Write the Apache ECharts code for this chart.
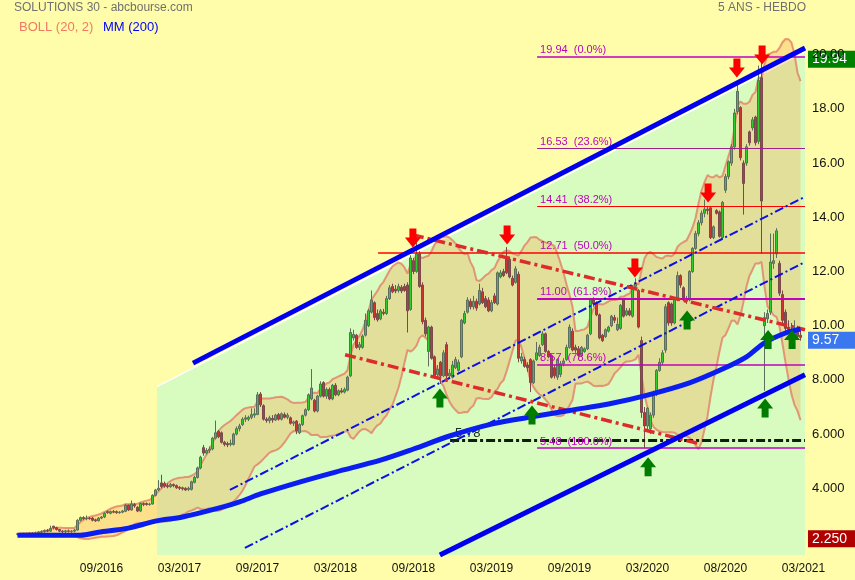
<!DOCTYPE html>
<html><head><meta charset="utf-8">
<script src="https://cdn.jsdelivr.net/npm/echarts@6/dist/echarts.min.js"></script>
<style>html,body{margin:0;padding:0;background:#fffda9}#c{width:855px;height:580px}</style>
</head><body><div id="c"></div>
<script>
// ---------------- DATA ----------------
const startDate = '2016-02-29';
const weekCount = 263;
const xTickLabels = ['09/2016','03/2017','09/2017','03/2018','09/2018','03/2019','09/2019','03/2020','08/2020','03/2021'];
const yTickValues = [4,6,8,10,12,14,16,18,20];

const openP = [2.30,2.32,2.30,2.33,2.31,2.34,2.32,2.35,2.38,2.40,2.44,2.42,2.60,2.55,2.48,2.42,2.40,2.43,2.41,2.42,
2.46,2.82,2.92,2.88,2.90,2.90,2.84,2.80,2.90,2.94,3.14,3.08,3.14,3.14,3.10,3.12,3.15,3.38,3.20,3.40,
3.30,3.16,3.44,3.44,3.40,3.42,3.74,3.94,4.20,4.18,4.10,4.06,4.14,4.10,4.04,4.02,4.00,3.96,3.96,4.22,
4.40,4.75,5.50,5.30,5.40,5.45,5.85,6.10,6.05,5.70,5.65,5.62,5.62,6.00,6.20,6.35,6.55,6.55,6.62,6.70,
6.72,7.48,7.05,6.55,6.50,6.58,6.52,6.72,6.55,6.72,6.62,6.60,6.40,6.48,6.05,6.35,6.70,6.90,7.30,7.25,
6.85,7.40,7.90,7.40,7.65,7.30,7.80,7.45,7.60,7.55,7.62,8.15,9.55,9.65,9.20,9.20,9.65,10.00,10.50,10.85,
10.45,10.25,10.50,10.45,11.00,11.45,11.35,11.30,11.42,11.45,11.50,10.60,12.40,12.00,12.65,11.50,10.20,9.05,9.95,8.85,
8.20,8.65,8.15,9.30,8.15,8.10,8.45,8.35,8.85,10.10,10.50,10.90,10.70,10.90,10.80,11.25,11.00,10.95,10.55,11.10,
10.80,11.80,12.00,12.50,12.45,11.75,11.60,11.90,8.70,8.75,8.55,8.75,7.90,8.75,8.90,9.30,9.70,9.05,8.90,8.45,
8.10,8.20,8.60,8.75,9.20,9.80,9.20,9.15,8.90,9.05,9.15,9.70,10.95,10.85,10.40,9.65,9.60,9.80,10.00,10.30,
9.85,9.90,10.95,10.40,10.55,10.35,11.45,11.30,9.45,6.80,6.30,6.20,6.70,7.50,8.35,8.65,9.10,10.85,10.80,10.10,
10.95,11.85,11.40,10.90,10.95,12.00,12.85,13.40,13.80,14.15,14.30,14.35,13.25,14.25,14.20,13.25,15.00,15.50,16.00,16.60,
17.90,18.05,16.00,16.00,17.15,17.30,17.70,16.80,19.15,10.00,10.25,10.50,12.30,12.65,12.30,11.15,10.50,9.95,9.85,9.65,
9.75,9.65];
const closeP = [2.32,2.30,2.33,2.31,2.34,2.32,2.35,2.38,2.40,2.44,2.42,2.52,2.55,2.48,2.42,2.40,2.43,2.41,2.42,2.46,
2.82,2.92,2.88,2.90,2.88,2.82,2.80,2.90,2.94,3.08,3.10,3.14,3.12,3.10,3.12,3.16,3.38,3.20,3.42,3.35,
3.16,3.44,3.40,3.40,3.42,3.74,3.94,4.00,4.06,4.08,4.06,4.14,4.10,4.02,4.00,3.98,3.94,4.00,4.24,4.40,
4.75,5.15,5.30,5.40,5.45,5.85,6.05,5.90,5.70,5.62,5.60,5.66,6.00,6.20,6.30,6.55,6.60,6.62,6.72,6.75,
7.45,7.08,6.55,6.50,6.60,6.52,6.70,6.55,6.75,6.62,6.70,6.40,6.45,6.12,6.35,6.68,6.90,7.45,7.70,6.85,
7.40,7.85,7.40,7.65,7.30,7.80,7.45,7.60,7.55,7.65,8.10,9.75,9.68,9.20,9.30,9.62,10.20,10.55,10.95,10.30,
10.22,10.55,10.45,11.00,11.40,11.25,11.28,11.45,11.28,11.30,10.55,12.50,12.00,12.65,11.45,10.15,9.70,9.95,8.80,8.15,
8.40,8.15,9.00,8.15,8.25,8.55,8.75,8.65,10.20,10.45,10.95,10.70,10.90,10.65,11.30,10.85,10.70,10.55,10.85,10.85,
11.95,11.95,11.85,11.95,11.80,11.50,12.10,8.80,8.85,8.50,8.45,7.90,8.70,9.00,9.20,9.70,9.05,8.85,8.10,8.15,
8.75,8.60,8.70,9.20,9.95,9.10,9.10,8.90,9.20,9.15,9.65,10.95,10.80,10.40,9.55,9.45,9.85,9.95,10.35,10.20,
10.05,10.75,10.35,10.55,10.40,11.40,11.55,9.95,6.80,6.30,6.95,6.70,7.50,8.35,8.65,9.00,10.70,10.10,10.10,10.95,
11.85,11.50,10.95,11.00,12.00,12.85,13.40,13.80,14.15,14.30,14.25,13.25,13.65,14.15,13.30,14.55,15.50,16.05,16.60,17.85,
18.65,16.20,15.25,16.60,16.75,17.60,16.75,19.05,14.60,10.30,10.45,12.35,12.40,13.50,11.20,10.20,9.90,9.85,9.65,9.80,
9.60,9.57];
const lowP = [2.25,2.26,2.27,2.28,2.28,2.29,2.29,2.31,2.33,2.36,2.38,2.40,2.48,2.44,2.38,2.30,2.32,2.37,2.36,2.38,
2.44,2.78,2.84,2.82,2.84,2.78,2.76,2.78,2.86,2.90,3.06,3.04,3.08,3.06,3.06,3.08,3.12,3.16,3.18,3.28,
3.12,3.12,3.34,3.36,3.36,3.40,3.70,3.90,4.00,4.02,4.00,4.02,4.04,3.98,3.94,3.92,3.90,3.90,3.92,4.18,
4.36,4.70,5.20,5.25,5.30,5.40,5.80,5.85,5.65,5.55,5.52,5.55,5.58,5.95,6.10,6.30,6.45,6.48,6.55,6.60,
6.70,7.00,6.50,6.42,6.40,6.42,6.48,6.50,6.50,6.58,6.55,6.35,6.30,6.00,6.00,6.30,6.65,6.85,7.25,6.80,
6.80,7.35,7.35,7.30,7.25,7.25,7.40,7.40,7.50,7.50,7.58,8.10,9.45,9.15,9.10,9.15,9.60,9.95,10.45,10.20,
10.15,10.20,10.38,10.40,10.95,11.20,11.20,11.22,11.20,11.25,9.75,10.55,11.90,11.95,11.40,10.05,9.60,8.50,8.75,8.10,
8.10,7.85,8.10,8.05,8.05,8.05,8.40,8.30,8.80,10.05,10.45,10.60,10.60,10.55,10.75,10.80,10.65,10.50,10.50,10.80,
10.75,11.75,11.80,11.90,11.75,11.45,11.55,8.65,8.60,8.45,8.30,7.55,7.85,8.70,8.85,9.25,9.00,8.80,8.05,8.05,
8.00,8.10,8.50,8.70,9.15,9.05,9.00,8.85,8.85,9.00,9.10,9.65,10.70,10.35,9.50,9.40,9.55,9.75,9.95,10.10,
9.80,9.85,10.30,10.35,10.35,10.30,11.40,9.90,6.60,5.48,6.10,6.00,6.60,7.40,8.30,8.55,9.00,10.00,10.00,10.05,
10.90,11.40,10.90,10.80,10.90,11.95,12.80,13.30,13.70,14.00,14.10,13.20,13.20,14.10,13.25,13.20,14.90,15.40,15.90,16.50,
17.80,16.10,14.10,15.90,16.65,17.20,16.65,16.70,12.65,7.60,10.10,10.40,12.10,12.50,11.10,10.10,9.80,9.70,9.55,9.50,
9.50,9.45];
const highP = [2.35,2.36,2.36,2.36,2.38,2.38,2.40,2.42,2.45,2.48,2.50,2.62,2.62,2.58,2.50,2.46,2.47,2.48,2.46,2.50,
2.86,2.96,2.97,3.00,2.94,2.94,2.88,2.94,2.98,3.12,3.18,3.18,3.20,3.18,3.16,3.20,3.42,3.40,3.55,3.46,
3.34,3.48,3.48,3.48,3.47,3.78,3.98,4.30,4.50,4.25,4.18,4.20,4.18,4.14,4.08,4.06,4.04,4.06,4.28,4.46,
4.80,5.20,5.60,5.48,5.55,5.90,6.50,6.15,6.10,5.75,5.72,5.80,6.05,6.28,6.38,6.62,6.70,6.68,6.95,6.95,
7.55,7.55,7.10,6.62,6.68,6.70,6.75,6.78,6.80,6.80,6.78,6.65,6.50,6.52,6.40,6.72,6.95,7.50,8.40,7.30,
7.45,7.95,7.95,7.72,7.72,7.85,7.88,7.65,7.70,7.72,8.15,9.90,9.85,9.70,9.40,9.68,10.45,10.62,11.30,10.90,
10.60,10.62,10.62,11.10,11.50,11.55,11.50,11.55,11.50,11.55,11.60,12.60,12.50,13.30,12.75,11.60,10.30,10.00,10.00,8.90,
8.55,8.70,9.10,9.40,8.40,8.70,8.85,8.75,10.25,10.55,11.05,11.00,11.10,11.00,11.55,11.40,11.10,11.05,10.95,11.20,
12.00,12.05,12.10,12.90,12.55,11.85,12.20,12.00,9.00,8.85,8.65,8.80,8.75,9.40,9.30,9.80,9.75,9.10,8.95,8.55,
8.80,8.70,8.80,9.30,10.05,9.90,9.30,9.25,9.25,9.20,9.70,11.00,11.05,10.90,10.45,9.70,9.90,10.00,10.40,10.40,
10.30,10.80,11.00,10.65,10.65,11.50,11.75,11.35,9.60,7.00,7.00,6.80,7.60,8.40,8.80,9.10,10.80,10.90,10.85,11.00,
12.00,11.90,11.45,11.10,12.05,12.90,13.50,13.90,14.25,14.65,14.40,14.40,13.70,14.30,14.25,14.60,15.60,16.10,16.70,18.00,
19.00,18.10,16.10,16.70,17.20,17.70,17.75,19.60,19.94,10.50,10.60,13.40,13.40,13.60,12.40,11.30,10.60,10.20,10.10,10.20,
10.00,9.80];

// MM(200) read at sample weeks
const mmWeek = [0,21,27,37,46,55,66,74,81,94,106,121,132,144,158,171,185,197,210,224,235,243,249,256,261];
const mmValue = [2.27,2.27,2.38,2.53,2.79,2.94,3.24,3.50,3.79,4.23,4.60,5.04,5.45,5.93,6.37,6.63,6.89,7.11,7.44,7.89,8.40,8.85,9.37,9.73,9.88];

// Fibonacci retracement levels
const fibValues = [19.94,16.53,14.41,12.71,11.00,8.57,5.48];
const fibLabels = ['19.94  (0.0%)','16.53  (23.6%)','14.41  (38.2%)','12.71  (50.0%)','11.00  (61.8%)','8.57  (78.6%)','5.48  (100.0%)'];
const fibLineStart = [173.2,173.2,173.2,120.2,173.2,173.2,173.2];
const fibLabelStart = 173.2;
const supportValue = 5.78;
const supportStart = 144.2;
// price-axis boxes: value, text
const boxValues = [19.94, 9.57, 2.250];
const boxTexts = ['19.94', '9.57', '2.250'];

// Trend lines [week, value]
const channelUpper = [[58.5,8.62],[262.5,20.25]];
const channelLower = [[140.8,1.54],[262.5,8.19]];
const greenZone = [[46.5,7.75],[262.5,20.1]];
const blueDash1 = [[70.8,3.94],[262.5,14.76]];
const blueDash2 = [[75.8,1.80],[262.5,12.35]];
const redDash1 = [[131.8,13.35],[262.5,9.85]];
const redDash2 = [[109.2,8.93],[227.5,5.64]];

// Signals [week, price at arrow tip]
const arrowsDown = [[131.8,12.87],[163.2,12.98],[205.8,11.76],[230.2,14.53],[239.8,19.14],[248.2,19.62]];
const arrowsUp = [[140.8,7.70],[171.5,7.07],[210.2,5.16],[223.2,10.58],[250.2,9.86],[249.2,7.33],[258.2,9.86]];

// ---------------- BUILD ----------------
const N = weekCount;
const XEND = N - 0.5;
const cats = [];
const t0 = Date.parse(startDate + 'T00:00:00Z');
for (let i = 0; i < N; i++) cats.push(new Date(t0 + i * 7 * 86400000).toISOString().slice(0, 10));
const fmtMonth = v => v.slice(5, 7) + '/' + v.slice(0, 4);
const FONT = 'Liberation Sans, Arial, Helvetica, sans-serif';

const candles = openP.map((o, i) => [o, closeP[i], lowP[i], highP[i]]);
const bollLow = [], bollDiff = [];
for (let i = 0; i < closeP.length; i++) {
  const w = closeP.slice(Math.max(0, i - 19), i + 1);
  const m = w.reduce((a, b) => a + b, 0) / w.length;
  const sd = Math.sqrt(w.reduce((a, b) => a + (b - m) * (b - m), 0) / w.length);
  bollLow.push(m - 2 * sd); bollDiff.push(4 * sd);
}
const mmData = mmWeek.map((w, k) => [w, mmValue[k]]);

const MAG = '#c000c0';
const fibColors = [MAG, '#a0208a', '#ff0000', '#ff0000', MAG, MAG, MAG];
const fibWidths = [1.5, 1.2, 1.2, 1.5, 2.2, 1.5, 1.5];
const hLines = [];
fibValues.forEach((v, k) => {
  hLines.push([{ coord: [fibLineStart[k], v], lineStyle: { color: fibColors[k], width: fibWidths[k], type: 'solid' }, label: { show: false } },
               { coord: [XEND, v] }]);
  hLines.push([{ coord: [fibLabelStart, v], lineStyle: { color: 'rgba(0,0,0,0)', width: 0 },
    label: { show: true, formatter: fibLabels[k], position: 'insideStartTop', distance: [3, 1], color: MAG, fontSize: 11, fontFamily: FONT } },
               { coord: [XEND, v] }]);
});
const supportLines = [[{ coord: [supportStart, supportValue], lineStyle: { color: '#0c1e0c', width: 3, type: [9, 3, 3, 3] },
  label: { show: true, formatter: supportValue.toFixed(2), position: 'insideStartTop', distance: [5, 0], color: '#1a2a1a', fontSize: 13, fontFamily: FONT } },
  { coord: [XEND, supportValue] }]];

const downArrow = 'path://M4.5,0 H11.5 V9 H16 L8,19 L0,9 H4.5 Z';
const upArrow = 'path://M8,0 L16,10 H11.5 V19 H4.5 V10 H0 Z';

function tl(data, color, width, type, z) {
  return { type: 'line', xAxisIndex: 1, data: data, symbol: 'none', silent: true, z: z || 6,
    lineStyle: { color: color, width: width, type: type || 'solid', cap: 'butt' } };
}

const baseGraphic = [
  { type: 'text', left: 14, top: 2, style: { text: 'SOLUTIONS 30 - abcbourse.com', fill: '#707070', font: '12px ' + FONT } },
  { type: 'text', left: 19, top: 21, style: { text: 'BOLL (20, 2)', fill: '#f07a64', font: '13px ' + FONT } },
  { type: 'text', left: 103, top: 21, style: { text: 'MM (200)', fill: '#0000ff', font: '13px ' + FONT } },
  { type: 'text', right: 49, top: 2, style: { text: '5 ANS - HEBDO', fill: '#707070', font: '12px ' + FONT } }
];

const chart = echarts.init(document.getElementById('c'));
chart.setOption({
  animation: false,
  backgroundColor: '#fffda9',
  grid: { left: 16, right: 50, top: 10, bottom: 25, containLabel: false },
  xAxis: [
    { type: 'category', data: cats, boundaryGap: true,
      axisLine: { show: false }, axisTick: { show: false }, splitLine: { show: false },
      axisLabel: { interval: (idx) => idx >= 27 && (idx - 27) % 26 === 0 && xTickLabels.indexOf(fmtMonth(cats[idx])) >= 0,
        formatter: fmtMonth, color: '#111', fontSize: 12, margin: 8, padding: [0, 0, 0, 6], fontFamily: FONT } },
    { type: 'value', min: -0.5, max: XEND, show: false }
  ],
  yAxis: { type: 'value', position: 'right', min: 1.539, max: 21.65,
    axisLine: { show: false }, axisTick: { show: false }, splitLine: { show: false },
    axisLabel: { customValues: yTickValues, formatter: v => v >= 10 ? v.toFixed(2) : v.toFixed(3),
      color: '#111', fontSize: 13, margin: 7, fontFamily: FONT } },
  series: [
    { type: 'line', xAxisIndex: 1, data: greenZone, symbol: 'none', silent: true, z: 1,
      lineStyle: { color: '#ffffff', width: 1.5 }, areaStyle: { color: '#d8fbbf', opacity: 1, origin: 'start' } },
    { type: 'line', data: bollLow, stack: 'boll', symbol: 'none', silent: true, z: 2,
      lineStyle: { color: 'rgba(225,120,100,0.75)', width: 2 } },
    { type: 'line', data: bollDiff, stack: 'boll', symbol: 'none', silent: true, z: 2,
      lineStyle: { color: 'rgba(225,120,100,0.75)', width: 2 },
      areaStyle: { color: 'rgba(248,155,60,0.42)' } },
    { type: 'candlestick', data: candles, barWidth: 3, z: 3, silent: true,
      itemStyle: { color: '#2ecc2e', color0: '#cc3333', borderColor: '#5c6e5c', borderColor0: '#7a4a4a', borderWidth: 1 } },
    { type: 'line', xAxisIndex: 1, data: [], z: 4, silent: true,
      markLine: { silent: true, symbol: ['none', 'none'], animation: false, data: hLines } },
    tl(blueDash1, '#0a10e6', 2, [9, 3, 2, 3]),
    tl(blueDash2, '#0a10e6', 2, [9, 3, 2, 3]),
    tl(redDash1, '#dd2a2a', 3.5, [11, 4, 3, 4]),
    tl(redDash2, '#dd2a2a', 3.5, [11, 4, 3, 4]),
    tl(channelUpper, '#0000ee', 5, 'solid', 7),
    tl(channelLower, '#0000ee', 5, 'solid', 7),
    { type: 'line', xAxisIndex: 1, data: mmData, smooth: 0.3, symbol: 'none', silent: true, z: 7,
      lineStyle: { color: '#0a1ef0', width: 5 } },
    { type: 'line', xAxisIndex: 1, data: [], z: 9, silent: true,
      markLine: { silent: true, symbol: ['none', 'none'], animation: false, data: supportLines } },
    { type: 'scatter', xAxisIndex: 1, data: arrowsDown, symbol: downArrow, symbolSize: [16, 19],
      symbolOffset: [0, -10], itemStyle: { color: '#ff0000', opacity: 1 }, z: 8, silent: true },
    { type: 'scatter', xAxisIndex: 1, data: arrowsUp, symbol: upArrow, symbolSize: [16, 19],
      symbolOffset: [0, 10], itemStyle: { color: '#007d00', opacity: 1 }, z: 8, silent: true }
  ],
  graphic: baseGraphic
});

// value boxes on the price axis, placed through the chart's own scales
const xRight = chart.convertToPixel({ xAxisIndex: 1 }, XEND);
const boxColors = ['#008000', '#3b78f0', '#b00000'];
const boxes = boxValues.map((v, k) => {
  const y = chart.convertToPixel({ yAxisIndex: 0 }, v);
  return { type: 'group', x: xRight + 3, y: y + 3, z: 100, children: [
    { type: 'rect', shape: { x: 0, y: -8.5, width: 50, height: 17 }, style: { fill: boxColors[k] } },
    { type: 'text', x: 4, y: 0, style: { text: boxTexts[k], fill: '#fff', font: '14px ' + FONT, verticalAlign: 'middle' } }
  ] };
});
chart.setOption({ graphic: baseGraphic.concat(boxes) });
</script></body></html>
